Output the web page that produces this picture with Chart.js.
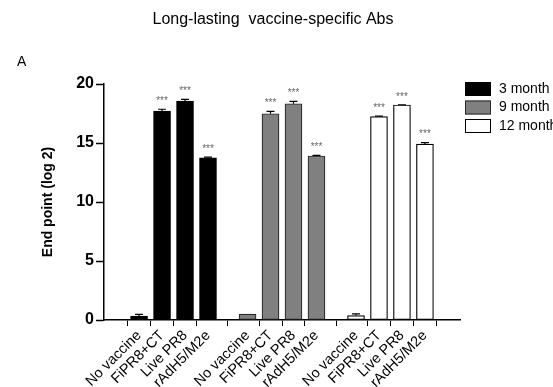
<!DOCTYPE html>
<html>
<head>
 <meta charset="utf-8" />
 <title>Long-lasting vaccine-specific Abs</title>
 <script src="https://cdn.jsdelivr.net/npm/chart.js@4.4.1/dist/chart.umd.min.js"></script>
 <style>
  html, body { margin: 0; padding: 0; background: #fff; overflow: hidden; }
 </style>
</head>
<body>
 <canvas id="myChart" width="553" height="387"></canvas>

 <script>
  // data
  var categories = ["No vaccine", "FiPR8+CT", "Live PR8", "rAdH5/M2e"];
  var seriesNames = ["3 month", "9 month", "12 month"];
  var month3 = [0.34, 17.70, 18.56, 13.75];
  var month9 = [0.50, 17.48, 18.33, 13.90];
  var month12 = [0.38, 17.23, 18.22, 14.90];
  var err3 = [0.14, 0.16, 0.14, 0.05];
  var err9 = [0.00, 0.20, 0.20, 0.05];
  var err12 = [0.14, 0.05, 0.02, 0.14];
  var signif = ["", "***", "***", "***"];
  var yTicks = [0, 5, 10, 15, 20];

  var groupStep = 4.72; // slot offset between groups on the x axis
  var values = [month3, month9, month12];
  var errors = [err3, err9, err12];
  var fills = ["#000000", "#808080", "#ffffff"];
  var borders = ["#000000", "#2a2a2a", "#000000"];

  var tickPos = [], tickLabels = [];
  var datasets = values.map(function (vals, g) {
   return {
    label: seriesNames[g],
    data: vals.map(function (v, i) {
     var x = g * groupStep + i;
     tickPos.push(x);
     tickLabels.push(categories[i]);
     return { x: x, y: v };
    }),
    errs: errors[g],
    backgroundColor: fills[g],
    borderColor: borders[g],
    borderWidth: 1.2,
    borderSkipped: false,
    barThickness: 17,
    grouped: false
   };
  });

  var extras = {
   id: "extras",
   afterDatasetsDraw: function (chart) {
    var ctx = chart.ctx;
    var yScale = chart.scales.y;
    chart.data.datasets.forEach(function (ds, d) {
     var meta = chart.getDatasetMeta(d);
     meta.data.forEach(function (bar, i) {
      var v = ds.data[i].y;
      var e = ds.errs[i];
      var yTop = yScale.getPixelForValue(v + e);
      ctx.save();
      ctx.strokeStyle = "#000";
      ctx.lineWidth = 1.2;
      if (e > 0) {
       ctx.beginPath();
       ctx.moveTo(bar.x, bar.y);
       ctx.lineTo(bar.x, yTop);
       ctx.moveTo(bar.x - 4, yTop);
       ctx.lineTo(bar.x + 4, yTop);
       ctx.stroke();
      }
      if (signif[i]) {
       ctx.fillStyle = "#666";
       ctx.font = "10px 'Liberation Sans', Arial";
       ctx.textAlign = "center";
       ctx.textBaseline = "bottom";
       ctx.fillText(signif[i], bar.x, yTop - 3);
      }
      ctx.restore();
     });
    });
   },
   afterDraw: function (chart) {
    var ctx = chart.ctx;
    ctx.save();
    ctx.fillStyle = "#000";
    ctx.font = "16px 'Liberation Sans', Arial";
    ctx.textAlign = "center";
    ctx.textBaseline = "middle";
    ctx.fillText("Long-lasting  vaccine-specific Abs", 273, 20);
    ctx.textAlign = "left";
    ctx.font = "14px 'Liberation Sans', Arial";
    ctx.fillText("A", 17, 62);

    // legend
    var lx = chart.chartArea.right + 5;
    chart.data.datasets.forEach(function (ds, d) {
     var cy = 89 + d * 18.5;
     ctx.fillStyle = ds.backgroundColor;
     ctx.fillRect(lx, cy - 7, 26, 14);
     ctx.strokeStyle = ds.borderColor;
     ctx.lineWidth = 1;
     ctx.strokeRect(lx + 0.5, cy - 6.5, 25, 13);
     ctx.fillStyle = "#000";
     ctx.font = "14px 'Liberation Sans', Arial";
     ctx.textAlign = "left";
     ctx.textBaseline = "middle";
     ctx.fillText(ds.label, lx + 34, cy);
    });
    ctx.restore();
   }
  };

  var chart = new Chart(document.getElementById("myChart"), {
   type: "bar",
   data: { datasets: datasets },
   options: {
    responsive: false,
    animation: false,
    layout: { padding: { left: 36, right: 93, top: 84, bottom: 0 } },
    plugins: {
     legend: { display: false },
     tooltip: { enabled: false },
     title: { display: false }
    },
    scales: {
     x: {
      type: "linear",
      min: -0.88,
      max: 2 * groupStep + 3 + 0.88,
      afterFit: function (scale) { scale.height = 67; },
      afterBuildTicks: function (scale) {
       scale.ticks = tickPos.map(function (p) { return { value: p }; });
      },
      grid: { drawOnChartArea: false, drawTicks: true, tickLength: 6, tickColor: "#000", tickWidth: 1 },
      border: { color: "#000", width: 1.5 },
      ticks: {
       autoSkip: false,
       minRotation: 45,
       maxRotation: 45,
       padding: 1,
       color: "#000",
       font: { family: "'Liberation Sans', Arial", size: 14.5 },
       callback: function (value, index) { return tickLabels[index]; }
      }
     },
     y: {
      min: 0,
      max: 20,
      afterFit: function (scale) { scale.width = 68; },
      afterBuildTicks: function (scale) {
       scale.ticks = yTicks.map(function (t) { return { value: t }; });
      },
      grid: { drawOnChartArea: false, drawTicks: true, tickLength: 8, tickColor: "#000", tickWidth: 1.5 },
      border: { color: "#000", width: 1.5 },
      ticks: {
       padding: 2,
       color: "#000",
       font: { family: "'Liberation Sans', Arial", size: 16, weight: "bold" }
      },
      title: {
       display: true,
       text: "End point (log 2)",
       color: "#000",
       font: { family: "'Liberation Sans', Arial", size: 14, weight: "bold" }
      }
     }
    }
   },
   plugins: [extras]
  });
 </script>
</body>
</html>
